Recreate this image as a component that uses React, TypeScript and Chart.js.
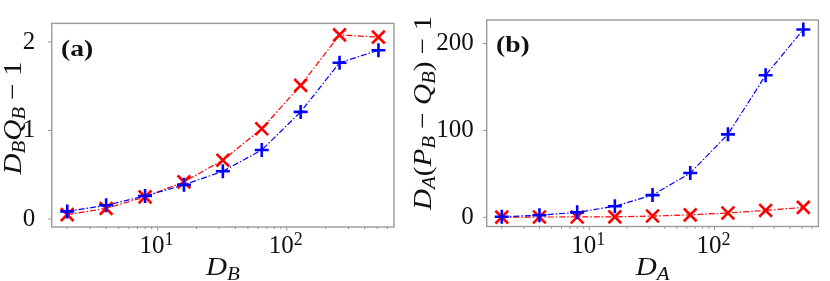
import React, { useEffect, useRef } from 'react';
import { Chart, registerables } from 'chart.js';

Chart.register(...registerables);

// ---- data ----
const X_VALUES = [2, 4, 8, 16, 32, 64, 128, 256, 512];
const A_RED = [0.05, 0.12, 0.25, 0.42, 0.665, 1.02, 1.51, 2.08, 2.055];
const A_BLUE = [0.086, 0.155, 0.26, 0.386, 0.54, 0.78, 1.21, 1.765, 1.907];
const B_RED = [0.3, 0.4, 0.5, 0.6, 1.5, 2.9, 5.0, 8.0, 11.5];
const B_BLUE = [0.7, 2.5, 5.8, 12.8, 25.6, 51, 95.5, 163.5, 216];
const Y_TICKS_A = [0, 1, 2];
const Y_TICKS_B = [0, 100, 200];
const X_MAJOR = [10, 100];
const X_MINOR = [2, 3, 4, 5, 6, 7, 8, 9, 20, 30, 40, 50, 60, 70, 80, 90, 200, 300, 400, 500, 600];
const X_MIN = 1.516;
const X_MAX = 675.5;

const SERIF = '"Liberation Serif", "Times New Roman", serif';
const H = 281;

type Seg = { t: string; it?: boolean; sub?: boolean; sup?: boolean; b?: boolean };

function drawMath(
  ctx: CanvasRenderingContext2D,
  segs: Seg[],
  x: number,
  y: number,
  align: 'center' | 'left',
  size: number,
  sx: number,
) {
  const small = size * 0.72;
  const fontOf = (s: Seg) =>
    `${s.b ? 'bold ' : ''}${s.it ? 'italic ' : ''}${s.sub || s.sup ? small : size}px ${SERIF}`;
  const widths = segs.map((s) => {
    ctx.font = fontOf(s);
    return ctx.measureText(s.t).width * sx;
  });
  const total = widths.reduce((p, c) => p + c, 0);
  let cx = align === 'center' ? x - total / 2 : x;
  ctx.textBaseline = 'alphabetic';
  ctx.textAlign = 'left';
  ctx.fillStyle = '#111111';
  segs.forEach((s, i) => {
    ctx.font = fontOf(s);
    const dy = s.sub ? size * 0.18 : s.sup ? -size * 0.32 : 0;
    ctx.save();
    ctx.translate(cx, y + dy);
    ctx.scale(sx, 1);
    ctx.fillText(s.t, 0, 0);
    ctx.restore();
    cx += widths[i];
  });
}

interface PanelCfg {
  width: number;
  area: { left: number; right: number; top: number; bottom: number };
  red: number[];
  blue: number[];
  yMin: number;
  yMax: number;
  yTicks: number[];
  tickPad: number;
  xTitle: Seg[];
  yTitle: Seg[];
  yTitleX: number;
  yTitleY: number;
  letter: string;
}

const PANEL_A: PanelCfg = {
  width: 410,
  area: { left: 51.7, right: 394, top: 4.3, bottom: 227 },
  red: A_RED,
  blue: A_BLUE,
  yMin: -0.09,
  yMax: 2.21,
  yTicks: Y_TICKS_A,
  tickPad: 8.4,
  xTitle: [{ t: 'D', it: true }, { t: 'B', it: true, sub: true }],
  yTitle: [
    { t: 'D', it: true },
    { t: 'B', it: true, sub: true },
    { t: 'Q', it: true },
    { t: 'B', it: true, sub: true },
    { t: ' \u2212 1' },
  ],
  yTitleX: 20.7,
  yTitleY: 118,
  letter: '(a)',
};

const PANEL_B: PanelCfg = {
  width: 420,
  area: { left: 76.7, right: 413.3, top: 4.5, bottom: 226.5 },
  red: B_RED,
  blue: B_BLUE,
  yMin: -10.5,
  yMax: 227,
  yTicks: Y_TICKS_B,
  tickPad: 5,
  xTitle: [{ t: 'D', it: true }, { t: 'A', it: true, sub: true }],
  yTitle: [
    { t: 'D', it: true },
    { t: 'A', it: true, sub: true },
    { t: '(' },
    { t: 'P', it: true },
    { t: 'B', it: true, sub: true },
    { t: ' \u2212 ' },
    { t: 'Q', it: true },
    { t: 'B', it: true, sub: true },
    { t: ')' },
    { t: ' \u2212 1' },
  ],
  yTitleX: 20.7,
  yTitleY: 113,
  letter: '(b)',
};

function Panel({ cfg }: { cfg: PanelCfg }) {
  const ref = useRef<HTMLCanvasElement | null>(null);
  useEffect(() => {
    if (!ref.current) return;
    const a = cfg.area;
    const deco = {
      id: 'deco',
      afterDraw(chart: any) {
        const ctx: CanvasRenderingContext2D = chart.ctx;
        const ca = chart.chartArea;
        const xs = chart.scales.x;
        const ys = chart.scales.y;
        ctx.save();
        // frame
        ctx.strokeStyle = '#9a9a9a';
        ctx.lineWidth = 1.4;
        ctx.strokeRect(ca.left, ca.top, ca.right - ca.left, ca.bottom - ca.top);
        // ticks
        ctx.strokeStyle = '#8a8a8a';
        ctx.lineWidth = 0.9;
        ctx.beginPath();
        X_MINOR.forEach((v) => {
          const px = xs.getPixelForValue(v);
          if (px < ca.left || px > ca.right) return;
          ctx.moveTo(px, ca.bottom);
          ctx.lineTo(px, ca.bottom + 2.2);
        });
        X_MAJOR.forEach((v) => {
          const px = xs.getPixelForValue(v);
          ctx.moveTo(px, ca.bottom);
          ctx.lineTo(px, ca.bottom + 3.6);
        });
        cfg.yTicks.forEach((v) => {
          const py = ys.getPixelForValue(v);
          ctx.moveTo(ca.left - 3.6, py);
          ctx.lineTo(ca.left, py);
        });
        ctx.stroke();
        // x tick labels
        X_MAJOR.forEach((v) => {
          const px = xs.getPixelForValue(v);
          const exp = Math.round(Math.log10(v));
          drawMath(ctx, [{ t: '10' }, { t: String(exp), sup: true }], px - 1, 252.5, 'center', 25, 1);
        });
        // x title
        drawMath(ctx, cfg.xTitle, (ca.left + ca.right) / 2, 275, 'center', 26, 1.12);
        // y title
        ctx.save();
        ctx.translate(cfg.yTitleX, cfg.yTitleY);
        ctx.rotate(-Math.PI / 2);
        drawMath(ctx, cfg.yTitle, 0, 0, 'center', 26, 1.12);
        ctx.restore();
        // panel letter
        drawMath(ctx, [{ t: cfg.letter, b: true }], ca.left + 9.3, ca.top + 32.4, 'left', 24, 1.15);
        ctx.restore();
      },
    };
    const mk = (arr: number[]) => X_VALUES.map((x, i) => ({ x, y: arr[i] }));
    const chart = new Chart(ref.current, {
      type: 'scatter',
      data: {
        datasets: [
          {
            data: mk(cfg.blue),
            showLine: true,
            borderColor: '#0000ff',
            backgroundColor: '#0000ff',
            borderWidth: 1.2,
            borderDash: [6, 2, 1.5, 2],
            pointStyle: 'cross',
            pointRadius: 7,
            pointBorderWidth: 2.6,
            pointBorderColor: '#0000ff',
            tension: 0,
          },
          {
            data: mk(cfg.red),
            showLine: true,
            borderColor: '#ff0000',
            backgroundColor: '#ff0000',
            borderWidth: 1.2,
            borderDash: [6, 2, 1.5, 2],
            pointStyle: 'crossRot',
            pointRadius: 9,
            pointBorderWidth: 2.6,
            pointBorderColor: '#ff0000',
            tension: 0,
          },
        ],
      },
      options: {
        animation: false,
        responsive: false,
        devicePixelRatio: 1,
        layout: { padding: { left: 0, right: cfg.width - a.right, top: a.top, bottom: 0 } },
        plugins: { legend: { display: false }, tooltip: { enabled: false } },
        scales: {
          x: {
            type: 'logarithmic',
            min: X_MIN,
            max: X_MAX,
            grid: { display: false },
            border: { display: false },
            ticks: { display: false },
            afterBuildTicks: (s: any) => {
              s.ticks = [...X_MINOR, ...X_MAJOR].sort((p, q) => p - q).map((v) => ({ value: v }));
            },
            afterFit: (s: any) => {
              s.height = H - a.bottom;
            },
          },
          y: {
            type: 'linear',
            min: cfg.yMin,
            max: cfg.yMax,
            grid: { display: false },
            border: { display: false },
            ticks: {
              font: { family: SERIF, size: 25 },
              color: '#111111',
              padding: cfg.tickPad,
              callback: (v: any) => String(v),
            },
            afterBuildTicks: (s: any) => {
              s.ticks = cfg.yTicks.map((v) => ({ value: v }));
            },
            afterFit: (s: any) => {
              s.width = a.left;
            },
          },
        },
      },
      plugins: [deco],
    } as any);
    return () => chart.destroy();
  }, [cfg]);
  return <canvas ref={ref} width={cfg.width} height={H} style={{ display: 'block', width: cfg.width, height: H }} />;
}

export default function App() {
  return (
    <div
      style={{
        position: 'fixed',
        left: 0,
        top: 0,
        width: 830,
        height: H,
        display: 'flex',
        flexDirection: 'row',
        background: '#ffffff',
      }}
    >
      <Panel cfg={PANEL_A} />
      <Panel cfg={PANEL_B} />
    </div>
  );
}
